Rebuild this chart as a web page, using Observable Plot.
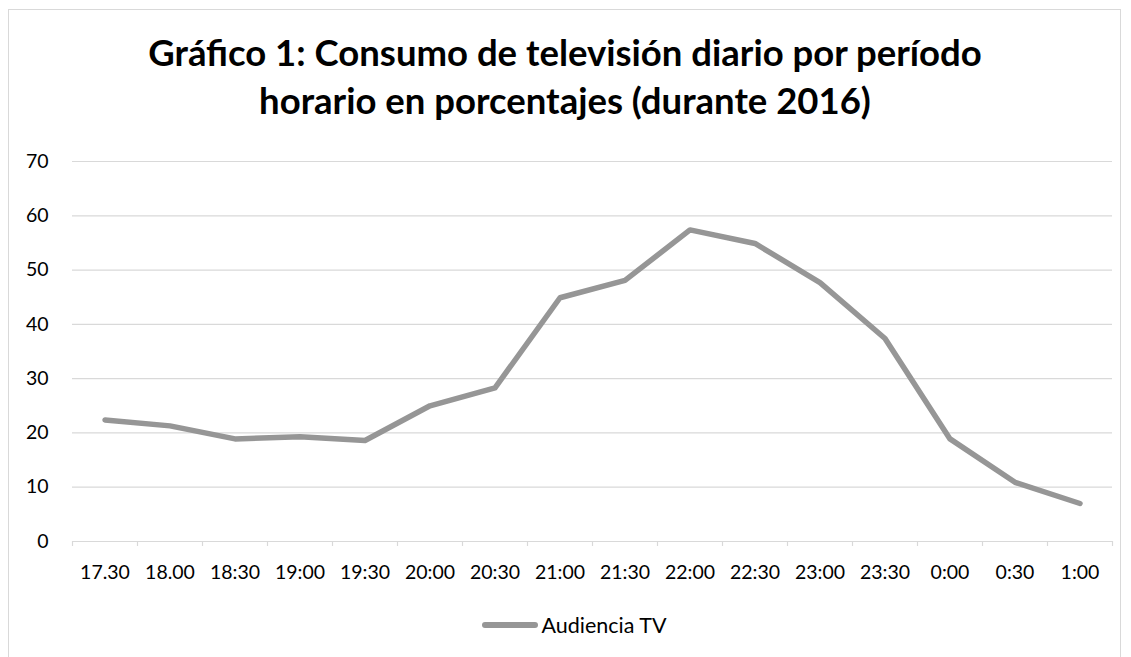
<!DOCTYPE html>
<html>
<head>
<meta charset="utf-8">
<script src="https://cdn.jsdelivr.net/npm/d3@7"></script>
<script src="https://cdn.jsdelivr.net/npm/@observablehq/plot@0.6"></script>
<style>
  html, body { margin: 0; padding: 0; background: #fff; }
  body { width: 1131px; height: 657px; position: relative; overflow: hidden; font-family: Lato, "Open Sans", sans-serif; }
  #frame { position: absolute; left: 8px; top: 9px; width: 1113px; height: 680px; border: 1.5px solid #d9d9d9; box-sizing: border-box; }
  #title { position: absolute; left: 8px; width: 1114px; top: 28px; text-align: center; font-weight: bold; font-size: 36.5px; line-height: 48px; color: #000; }
  #chart { position: absolute; left: 0; top: 140px; }
  #legend { position: absolute; left: 0; width: 1131px; top: 612px; height: 26px; display: flex; justify-content: center; align-items: center; font-size: 21.5px; color: #000; padding-left: 18px; box-sizing: border-box; }
  #legend .sw { width: 56px; height: 5.5px; border-radius: 3px; background: #969696; margin-right: 3px; }
</style>
</head>
<body>
<div id="frame"></div>
<div id="title">Gráfico 1: Consumo de televisión diario por período<br>horario en porcentajes (durante 2016)</div>
<div id="chart"></div>
<div id="legend"><div class="sw"></div><span id="legtext"></span></div>
<script>
const times = ["17.30","18.00","18:30","19:00","19:30","20:00","20:30","21:00","21:30","22:00","22:30","23:00","23:30","0:00","0:30","1:00"];
const audiencia = [22.4, 21.3, 18.9, 19.3, 18.6, 25.0, 28.3, 44.9, 48.1, 57.4, 54.9, 47.7, 37.4, 18.9, 10.9, 7.0];
const yTicks = [0, 10, 20, 30, 40, 50, 60, 70];
const seriesName = "Audiencia TV";

const data = times.map((t, i) => ({time: t, value: audiencia[i]}));

const W = 1131, H = 451, mL = 72, mR = 19, mT = 21, mB = 50;
const step = (W - mL - mR) / times.length;
const grid = "#d9d9d9";
const lineColor = "#969696";

const plot = Plot.plot({
  width: W, height: H,
  marginLeft: mL, marginRight: mR, marginTop: mT, marginBottom: mB,
  style: {fontFamily: "Lato, 'Open Sans', sans-serif", fontSize: "19.5px", color: "#000", background: "transparent"},
  x: {type: "band", domain: times, padding: 0},
  y: {domain: [0, 70]},
  marks: [
    Plot.ruleY(yTicks, {stroke: grid, strokeWidth: 1.2}),
    Plot.ruleX(times, {x: d => d, y1: 0, y2: 0, insetBottom: -5, dx: -step / 2, stroke: grid, strokeWidth: 1.2}),
    Plot.ruleX([times[times.length - 1]], {x: d => d, y1: 0, y2: 0, insetBottom: -5, dx: step / 2, stroke: grid, strokeWidth: 1.2}),
    Plot.axisY(yTicks, {tickSize: 0, tickPadding: 24, fontSize: 19.5, label: null, fill: "#000"}),
    Plot.axisX({tickSize: 0, tickPadding: 24, fontSize: 19.5, label: null, fill: "#000"}),
    Plot.line(data, {x: "time", y: "value", stroke: lineColor, strokeWidth: 5.5, strokeLinecap: "round", strokeLinejoin: "round"})
  ]
});
document.getElementById("chart").appendChild(plot);
document.getElementById("legtext").textContent = seriesName;
</script>
</body>
</html>
